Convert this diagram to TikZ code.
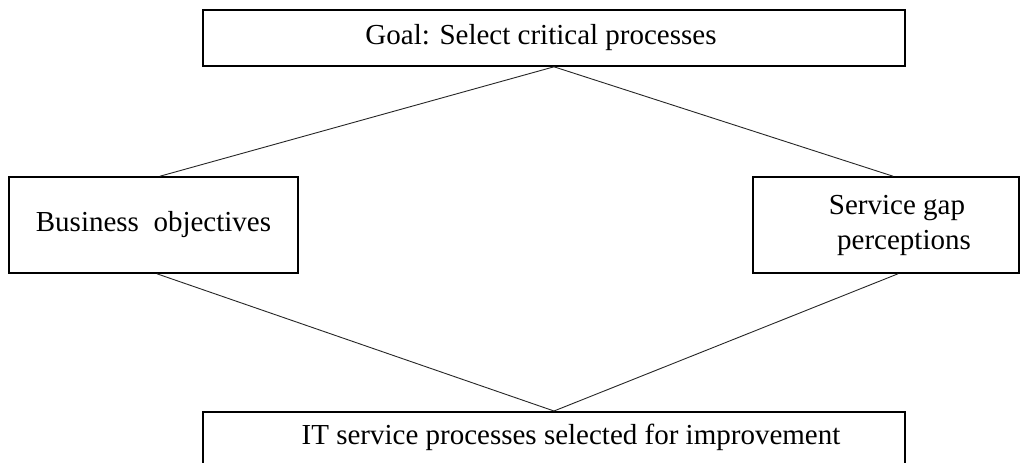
\documentclass[tikz,border=0pt]{standalone}
\usepackage{fontspec}
\setmainfont{Liberation Serif}
\begin{document}
\begin{tikzpicture}[x=1pt,y=-1pt,
  box/.style={draw=black,line width=1.6pt,rectangle,inner sep=0pt,align=center,
    font=\fontsize{29}{35}\selectfont},
  link/.style={draw=black!85,line width=0.9pt}]
\useasboundingbox (0,0) rectangle (1031,463);
\clip (0,0) rectangle (1031,463);
\fill[white] (0,0) rectangle (1031,463);
\node[box,minimum width=702pt,minimum height=56pt] (goal) at (554,38)
  {\hspace*{-26pt}Goal: Select critical processes};
\node[box,minimum width=289pt,minimum height=96pt] (biz) at (153.5,225)
  {Business\ \ objectives};
\node[box,minimum width=266pt,minimum height=96pt] (gap) at (886,225)
  {\hspace*{22pt}Service gap\\\hspace*{36pt}perceptions};
\node[box,anchor=north,minimum width=702pt,inner ysep=8pt,text height=25pt,text depth=70pt] (it) at (554,411)
  {\hspace*{34pt}IT service processes selected for improvement};
\draw[link] (goal.south) -- ([xshift=6.5pt]biz.north);
\draw[link] (goal.south) -- ([xshift=7pt]gap.north);
\draw[link] ([xshift=3.5pt]biz.south) -- (it.north);
\draw[link] ([xshift=12pt]gap.south) -- (it.north);
\end{tikzpicture}
\end{document}
